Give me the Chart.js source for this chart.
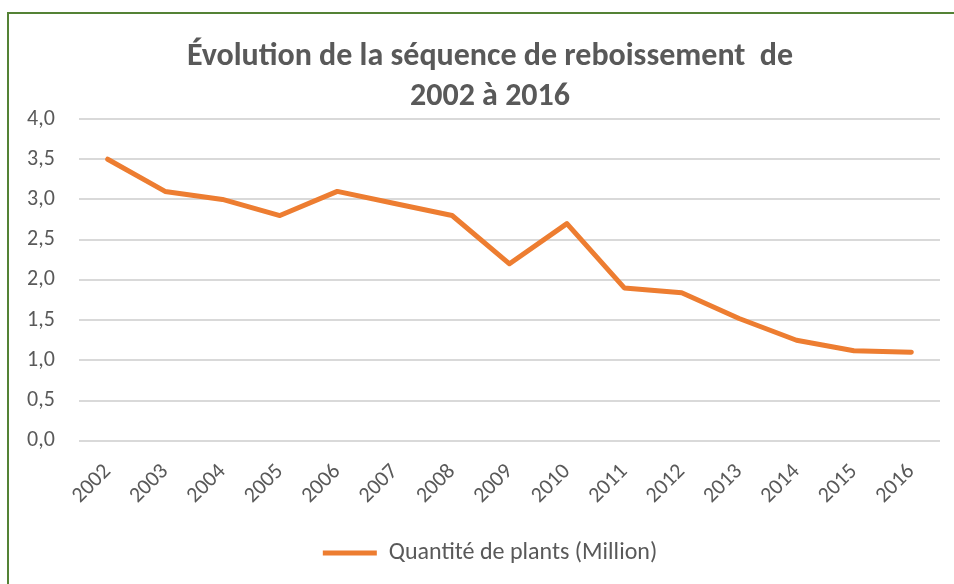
<!DOCTYPE html>
<html>
<head>
<meta charset="utf-8">
<script src="https://cdn.jsdelivr.net/npm/chart.js@4"></script>
<style>
  html, body { margin: 0; padding: 0; background: #fff; overflow: hidden; }
  #wrap { position: relative; width: 954px; height: 584px; }
  #frame { position: absolute; left: 7px; top: 12px; width: 950px; height: 600px;
           border: 2px solid #548235; box-sizing: border-box; }
  canvas { position: absolute; left: 0; top: 0; }
</style>
</head>
<body>
<div id="wrap">
  <div id="frame"></div>
  <canvas id="myChart" width="954" height="584"></canvas>
</div>
<script>
// annees et quantites (million de plants)
var years = ['2002', '2003', '2004', '2005', '2006', '2007', '2008', '2009',
             '2010', '2011', '2012', '2013', '2014', '2015', '2016'];
var plants = [3.5, 3.1, 3.0, 2.8, 3.1, 2.95, 2.8, 2.2, 2.7, 1.9, 1.84, 1.52, 1.25, 1.12, 1.1];
var seriesName = 'Quantité de plants (Million)';
var titleLines = ['Évolution de la séquence de reboissement  de', '2002 à 2016'];

var fontFam = 'Carlito, "Liberation Sans Narrow", "DejaVu Sans Condensed", sans-serif';
var grey = '#595959';

var ctx = document.querySelector('#myChart').getContext('2d');
var myChart = new Chart(ctx, {
    type: 'line',
    data: {
        labels: years,
        datasets: [{
            label: seriesName,
            data: plants,
            borderColor: '#ED7D31',
            backgroundColor: '#ED7D31',
            borderWidth: 5,
            pointRadius: 0,
            tension: 0,
            borderCapStyle: 'round',
            borderJoinStyle: 'round'
        }]
    },
    options: {
        responsive: false,
        animation: false,
        layout: { padding: { left: 40, right: 14, top: 0, bottom: 9 } },
        plugins: {
            title: {
                display: true,
                text: titleLines,
                color: grey,
                font: { family: fontFam, size: 32, weight: 'bold', lineHeight: 1.25 },
                padding: { top: 37, bottom: 2 }
            },
            legend: {
                position: 'bottom',
                labels: {
                    usePointStyle: true,
                    pointStyle: 'line',
                    pointStyleWidth: 54,
                    color: grey,
                    font: { family: fontFam, size: 24 },
                    padding: 14
                }
            },
            tooltip: { enabled: false }
        },
        scales: {
            x: {
                offset: true,
                grid: { display: false, drawTicks: false },
                border: { display: false },
                ticks: {
                    color: grey,
                    font: { family: fontFam, size: 22 },
                    maxRotation: 45,
                    minRotation: 45,
                    padding: 18,
                    autoSkip: false
                }
            },
            y: {
                min: 0,
                max: 4,
                // narrow axis box, labels mirrored back out to the left (not clipped)
                afterFit: function(scale) { scale.width = 39; },
                grid: { color: '#d9d9d9', lineWidth: 2, drawTicks: false },
                border: { display: false },
                ticks: {
                    stepSize: 0.5,
                    color: grey,
                    font: { family: fontFam, size: 22 },
                    mirror: true,
                    crossAlign: 'near',
                    padding: -52,
                    callback: function(v) { return v.toFixed(1).replace('.', ','); }
                }
            }
        }
    }
});
</script>
</body>
</html>
